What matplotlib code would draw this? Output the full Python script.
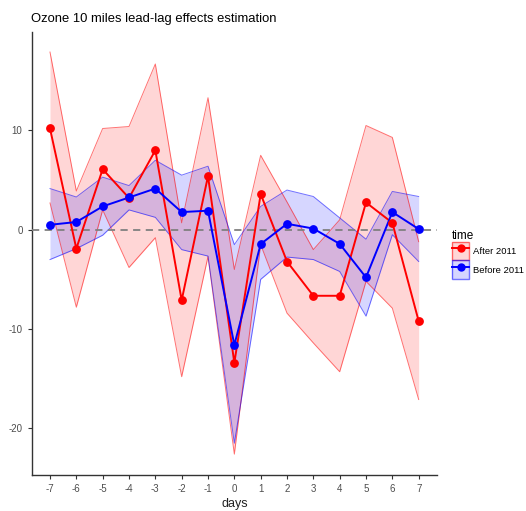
import numpy as np
import matplotlib.pyplot as plt
from matplotlib.patches import Patch
from matplotlib.lines import Line2D

plt.rcParams['font.family'] = ['Liberation Sans', 'DejaVu Sans']
plt.rcParams['axes.unicode_minus'] = False

days = list(range(-7, 8))

# After 2011
after_est = [10.2, -1.9, 6.1, 3.2, 8.0, -7.1, 5.4, -13.4, 3.6, -3.2, -6.65, -6.65, 2.75, 0.7, -9.2]
after_hi = [17.9, 3.9, 10.2, 10.4, 16.7, 0.7, 13.3, -4.0, 7.5, 2.8, -2.0, 1.0, 10.5, 9.3, -1.2]
after_lo = [2.7, -7.8, 2.0, -3.8, -0.8, -14.8, -2.7, -22.6, -1.5, -8.4, -11.4, -14.3, -5.2, -7.9, -17.1]

# Before 2011
before_est = [0.5, 0.78, 2.35, 3.25, 4.15, 1.78, 1.92, -11.6, -1.44, 0.6, 0.12, -1.42, -4.8, 1.78, 0.07]
before_hi = [4.15, 3.3, 5.3, 4.45, 7.0, 5.5, 6.4, -1.5, 2.35, 4.0, 3.35, 1.2, -0.95, 3.86, 3.35]
before_lo = [-3.0, -1.9, -0.55, 2.0, 1.25, -2.0, -2.65, -21.5, -5.0, -2.75, -3.0, -4.2, -8.7, -0.5, -3.2]

series = [("After 2011", after_est, after_lo, after_hi, "#FF0000"),
          ("Before 2011", before_est, before_lo, before_hi, "#0000FF")]

fig = plt.figure(figsize=(5.26, 5.11), dpi=100)
ax = fig.add_axes([0.060, 0.0705, 0.771, 0.8665])

for name, est, lo, hi, col in series:
    ax.fill_between(days, lo, hi, color=col, alpha=0.16, linewidth=0, zorder=1)
    ax.plot(days, lo, color=col, alpha=0.55, lw=0.7, zorder=2)
    ax.plot(days, hi, color=col, alpha=0.55, lw=0.7, zorder=2)

ax.axhline(0, color="#808080", ls=(0, (4, 3)), lw=1.3, zorder=3)

for i, (name, est, lo, hi, col) in enumerate(series):
    ax.plot(days, est, color=col, lw=1.4, zorder=4 + i)
for i, (name, est, lo, hi, col) in enumerate(series):
    ax.plot(days, est, "o", color=col, ms=5.3, zorder=6 + i)

ax.set_xlim(-7.7, 7.7)
ax.set_ylim(-24.7, 19.9)
ax.set_xticks(days)
ax.set_yticks([-20, -10, 0, 10])
ax.tick_params(colors="#333333", labelcolor="#4D4D4D", labelsize=7, length=3, width=0.8)
for s in ["top", "right"]:
    ax.spines[s].set_visible(False)
for s in ["left", "bottom"]:
    ax.spines[s].set_color("#333333")
    ax.spines[s].set_linewidth(1.0)
ax.set_xlabel("days", fontsize=9, color="#222222", labelpad=3)

fig.text(0.059, 0.963, "Ozone 10 miles lead-lag effects estimation", fontsize=9.4, va="center", ha="left")

# legend keys: filled box with outline, line and point
handles = []
labels = []
for name, est, lo, hi, col in series:
    p = Patch(facecolor=col, alpha=0.16, edgecolor="none")
    pe = Patch(facecolor="none", edgecolor=col, alpha=0.55, lw=1)
    ln = Line2D([], [], color=col, lw=1.4, marker="o", ms=5)
    handles.append((p, pe, ln))
    labels.append(name)

leg = fig.legend(handles, labels, title="time", loc="center left",
                 bbox_to_anchor=(0.859, 0.502), frameon=False, fontsize=6.8,
                 title_fontsize=8.5, handlelength=1.85, handleheight=2.7,
                 handletextpad=0.35, labelspacing=0.0, borderaxespad=0,
                 borderpad=0)
leg._legend_box.align = "left"

fig.savefig("out.png", dpi=100)
plt.close(fig)
